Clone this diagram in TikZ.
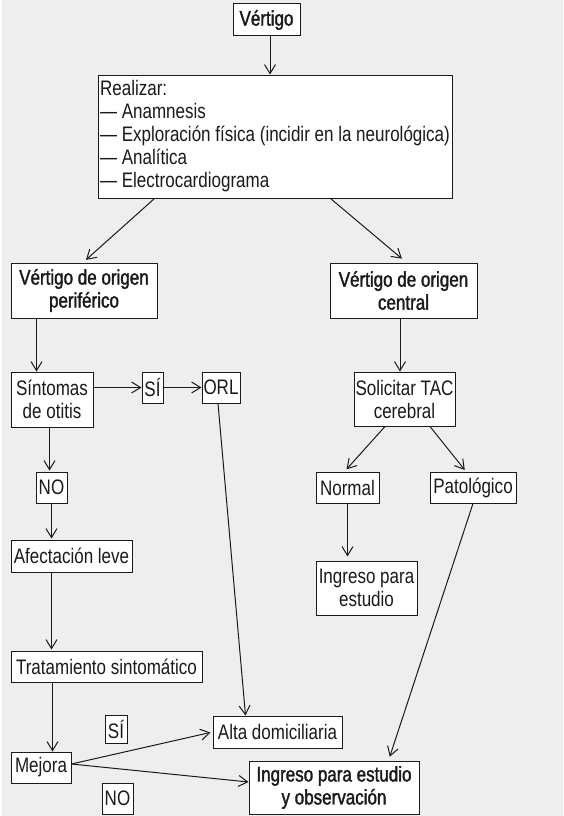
\documentclass[tikz,border=0pt]{standalone}
\usepackage{fontspec}
\setmainfont{Liberation Sans}[FakeStretch=0.81]
\newfontfamily\semibold{Liberation Sans}[FakeStretch=0.81, FakeBold=1.6]
\usetikzlibrary{arrows.meta}
\definecolor{pagebg}{HTML}{EEEEEE}
\definecolor{ink}{HTML}{1A1A1A}
\begin{document}
\begin{tikzpicture}[x=1pt,y=-1pt,
  every node/.style={font=\fontsize{21}{23}\selectfont, text=ink},
  box/.style={draw=ink, fill=white, line width=1pt, inner sep=0pt, align=center},
  strong/.style={box, font=\fontsize{21}{23}\selectfont\semibold},
  link/.style={draw=ink, line width=1pt, -{Straight Barb[length=9pt,width=11pt]}}]
  % page
  \useasboundingbox (0,0) rectangle (563,816);
  \fill[pagebg] (2,0) rectangle (563,816);

  % boxes
  \node[strong, minimum width=67pt, minimum height=32pt] (vert) at (266.5,20) {Vértigo};
  \node[box, minimum width=354pt, minimum height=123pt, align=left] (real) at (275,136.5)
    {Realizar:\\— Anamnesis\\— Exploración física (incidir en la neurológica)\\— Analítica\\— Electrocardiograma};
  \node[strong, minimum width=146pt, minimum height=55pt] (peri) at (84,290.5) {Vértigo de origen\\periférico};
  \node[strong, minimum width=147pt, minimum height=55pt] (cent) at (403.5,290.5) {Vértigo de origen\\central};
  \node[box, minimum width=82pt, minimum height=55pt] (sint) at (52,399.5) {Síntomas\\de otitis};
  \node[box, minimum width=21pt, minimum height=31pt] (si1) at (152.5,387.5) {SÍ};
  \node[box, minimum width=38pt, minimum height=31pt] (orl) at (221,387.5) {ORL};
  \node[box, minimum width=101pt, minimum height=54pt] (tac) at (404.5,399) {Solicitar TAC\\cerebral};
  \node[box, minimum width=31pt, minimum height=31pt] (no1) at (51.5,487.5) {NO};
  \node[box, minimum width=63pt, minimum height=31pt] (normal) at (347.5,487.5) {Normal};
  \node[box, minimum width=86pt, minimum height=31pt] (pato) at (473,487.5) {Patológico};
  \node[box, minimum width=121pt, minimum height=32pt] (afec) at (71.5,556) {Afectación leve};
  \node[box, minimum width=101pt, minimum height=54pt] (ingE) at (366.5,588) {Ingreso para\\estudio};
  \node[box, minimum width=191pt, minimum height=31pt] (trat) at (106.5,666.5) {Tratamiento sintomático};
  \node[box, minimum width=129pt, minimum height=32pt] (alta) at (277.5,732) {Alta domiciliaria};
  \node[box, minimum width=22pt, minimum height=28pt] (si2) at (116,729) {SÍ};
  \node[box, minimum width=60pt, minimum height=31pt] (mej) at (41,767.5) {Mejora};
  \node[strong, minimum width=170pt, minimum height=53pt] (ingO) at (334,787.5) {Ingreso para estudio\\y observación};
  \node[box, minimum width=31pt, minimum height=31pt] (no2) at (117.5,798.5) {NO};

  % connectors
  \draw[link] ([xshift=3.5pt]vert.south) -- ([xshift=3.5pt]vert.south |- real.north);
  \draw[link, shorten >=4pt] ([xshift=57pt]real.south west) -- ([xshift=-1pt]peri.north);
  \draw[link, shorten >=6pt] ([xshift=-122pt]real.south east) -- ([xshift=3pt]cent.north);
  \draw[link] ([xshift=26pt]peri.south west) -- ([xshift=26pt]sint.north west);
  \draw[link] (sint.east |- si1.west) -- (si1.west);
  \draw[link] (si1.east) -- (orl.west);
  \draw[link, shorten >=1pt] ([xshift=-2.5pt]sint.south) -- ([xshift=-2.5pt]sint.south |- no1.north);
  \draw[link] ([xshift=-3pt]orl.south) -- ([xshift=33pt]alta.north west);
  \draw[link] ([xshift=-3.5pt]cent.south) -- ([xshift=-3.5pt]cent.south |- tac.north);
  \draw[link, shorten >=3pt] ([xshift=-19.5pt]tac.south) -- ([xshift=-3pt]normal.north);
  \draw[link, shorten >=2pt] ([xshift=25.5pt]tac.south) -- ([xshift=-7pt]pato.north);
  \draw[link, shorten >=1pt] (no1.south) -- (no1.south |- afec.north);
  \draw[link, shorten >=4pt] (normal.south) -- (normal.south |- ingE.north);
  \draw[link, shorten >=1pt] ([xshift=41pt]afec.south west) -- ([xshift=41pt]trat.north west);
  \draw[link] ([xshift=42pt]trat.south west) -- ([xshift=42pt]mej.north west);
  \draw[link, shorten >=4pt] (pato.south) -- ([xshift=-31pt]ingO.north east);
  \draw[link, shorten >=2pt] ([yshift=3.5pt]mej.east) -- (alta.west);
  \draw[link] ([yshift=3.5pt]mej.east) -- ([yshift=5.5pt]ingO.west);
\end{tikzpicture}
\end{document}
